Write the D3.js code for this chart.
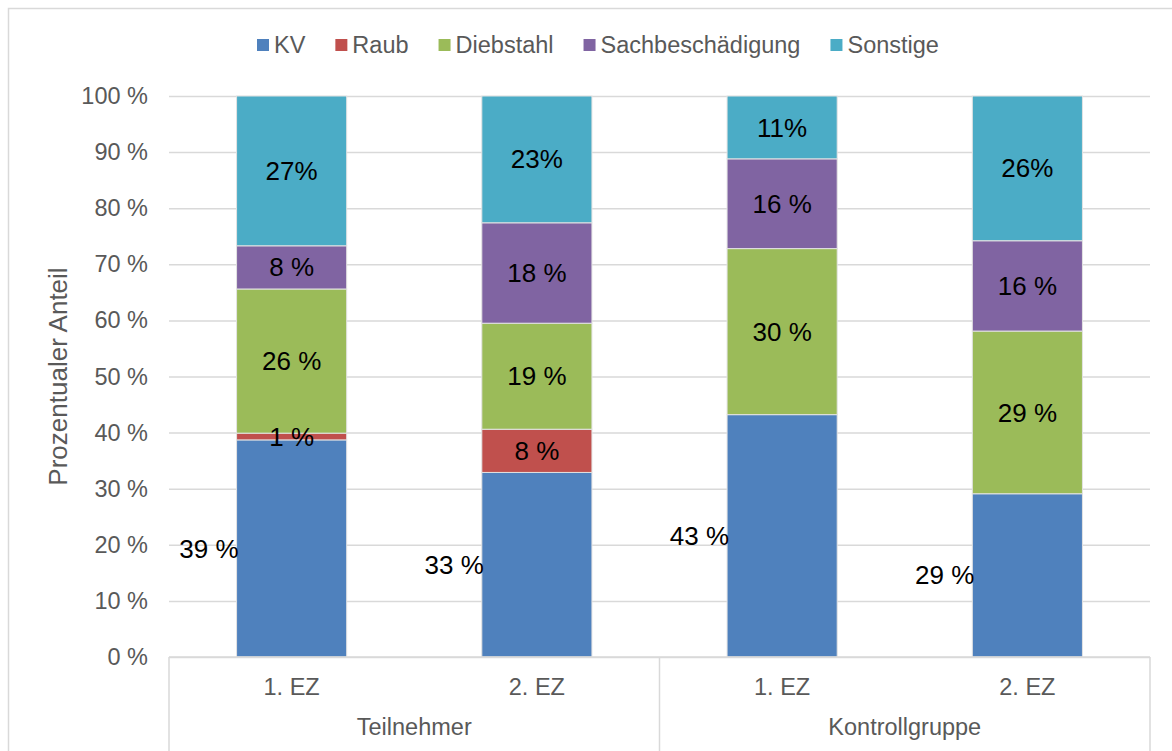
<!DOCTYPE html>
<html>
<head>
<meta charset="utf-8">
<script src="https://cdn.jsdelivr.net/npm/d3@7"></script>
<style>
    body { margin: 0; background: #fff; }
    svg { display: block; font-family: "Liberation Sans", Arial, sans-serif; }
</style>
</head>
<body>
<div id="chart"></div>
<script>
// Data (percent shares per bar)
const categories = ['1. EZ', '2. EZ', '1. EZ', '2. EZ'];
const groups = ['Teilnehmer', 'Kontrollgruppe'];
const seriesNames = ['KV', 'Raub', 'Diebstahl', 'Sachbeschädigung', 'Sonstige'];
const seriesColors = ['#4F81BD', '#C0504D', '#9BBB59', '#8064A2', '#4BACC6'];
const kv = [38.7, 32.9, 43.2, 29.1];
const raub = [1.2, 7.7, 0, 0];
const diebstahl = [25.7, 18.9, 29.6, 29.0];
const sachbeschaedigung = [7.7, 17.9, 16.0, 16.1];
const sonstige = [26.7, 22.6, 11.2, 25.8];
const yTicks = [0, 10, 20, 30, 40, 50, 60, 70, 80, 90, 100];

const W = 1172, H = 751;
const margin = { top: 96, left: 169, right: 22, bottom: 94 };
const plotW = W - margin.left - margin.right;
const plotH = H - margin.top - margin.bottom;

const seriesValues = [kv, raub, diebstahl, sachbeschaedigung, sonstige];
const rows = categories.map((c, i) => {
    const r = { idx: i };
    seriesNames.forEach((s, k) => { r[s] = seriesValues[k][i]; });
    return r;
});
const stacked = d3.stack().keys(seriesNames)(rows);

const svg = d3.select('#chart').append('svg')
    .attr('width', W)
    .attr('height', H);

// outer chart border
svg.append('rect')
    .attr('x', 8.5).attr('y', 8.5)
    .attr('width', W + 20).attr('height', H + 20)
    .attr('fill', 'none')
    .attr('stroke', '#d9d9d9')
    .attr('stroke-width', 1.5);

const g = svg.append('g')
    .attr('transform', `translate(${margin.left},${margin.top})`);

const x = d3.scaleBand()
    .domain(d3.range(categories.length))
    .range([0, plotW])
    .paddingInner(0.551)
    .paddingOuter(0.2755);

const xGroup = d3.scaleBand()
    .domain(groups)
    .range([0, plotW]);

const y = d3.scaleLinear()
    .domain([0, 100])
    .range([plotH, 0]);

// gridlines + tick labels
g.append('g')
    .call(d3.axisLeft(y).tickValues(yTicks).tickSize(-plotW).tickFormat(d => `${d} %`))
    .call(ax => ax.select('.domain').remove())
    .call(ax => ax.selectAll('line').attr('stroke', '#d9d9d9').attr('stroke-width', 1.5))
    .call(ax => ax.selectAll('text')
        .attr('x', -21)
        .style('fill', '#595959')
        .style('font-size', '23.5px')
        .style('font-family', '"Liberation Sans", Arial, sans-serif'));

// stacked bars
const layers = g.selectAll('.layer')
    .data(stacked)
    .enter()
    .append('g')
    .attr('class', 'layer')
    .attr('fill', (d, i) => seriesColors[i]);

layers.selectAll('rect')
    .data(d => d)
    .enter()
    .append('rect')
    .attr('x', d => x(d.data.idx))
    .attr('y', d => y(d[1]))
    .attr('width', x.bandwidth())
    .attr('height', d => y(d[0]) - y(d[1]))
    .attr('stroke', '#e3e3e3')
    .attr('stroke-width', 1);

// data labels on top of all bars (KV labels sit left of the bar, others centred)
const labelLayer = g.append('g');
stacked.forEach((layer, k) => {
    labelLayer.selectAll(`.lbl-${k}`)
        .data(layer.filter(d => d[1] - d[0] > 0))
        .enter()
        .append('text')
        .attr('class', `lbl-${k}`)
        .attr('x', d => k === 0 ? x(d.data.idx) + 2 : x(d.data.idx) + x.bandwidth() / 2)
        .attr('y', d => y((d[0] + d[1]) / 2))
        .attr('dy', '0.35em')
        .attr('text-anchor', k === 0 ? 'end' : 'middle')
        .style('fill', '#000')
        .style('font-size', '26px')
        .text(d => {
            const v = Math.round(d[1] - d[0]);
            return k === 4 ? `${v}%` : `${v} %`;
        });
});

// category axis (two levels)
const axisCol = '#d9d9d9';
g.append('line')
    .attr('x1', 0).attr('x2', plotW)
    .attr('y1', plotH).attr('y2', plotH)
    .attr('stroke', axisCol).attr('stroke-width', 1.5);

const dividers = [0, xGroup(groups[1]), plotW];
g.selectAll('.divider')
    .data(dividers)
    .enter()
    .append('line')
    .attr('x1', d => d).attr('x2', d => d)
    .attr('y1', plotH).attr('y2', plotH + 120)
    .attr('stroke', axisCol).attr('stroke-width', 1.5);

g.selectAll('.cat-label')
    .data(categories)
    .enter()
    .append('text')
    .attr('x', (d, i) => x(i) + x.bandwidth() / 2)
    .attr('y', plotH + 30)
    .attr('dy', '0.35em')
    .attr('text-anchor', 'middle')
    .style('fill', '#595959')
    .style('font-size', '23.5px')
    .text(d => d);

g.selectAll('.group-label')
    .data(groups)
    .enter()
    .append('text')
    .attr('x', d => xGroup(d) + xGroup.bandwidth() / 2)
    .attr('y', plotH + 70)
    .attr('dy', '0.35em')
    .attr('text-anchor', 'middle')
    .style('fill', '#595959')
    .style('font-size', '23.5px')
    .text(d => d);

// y axis title
svg.append('text')
    .attr('transform', `translate(58, ${margin.top + plotH / 2}) rotate(-90)`)
    .attr('dy', '0.35em')
    .attr('text-anchor', 'middle')
    .style('fill', '#595959')
    .style('font-size', '26px')
    .text('Prozentualer Anteil');

// legend
const legend = svg.append('g')
    .attr('transform', 'translate(257, 45)');
let lx = 0;
seriesNames.forEach((name, i) => {
    legend.append('rect')
        .attr('x', lx)
        .attr('y', -6)
        .attr('width', 12)
        .attr('height', 12)
        .attr('fill', seriesColors[i]);
    const t = legend.append('text')
        .attr('x', lx + 17)
        .attr('dy', '0.35em')
        .style('fill', '#595959')
        .style('font-size', '23.5px')
        .text(name);
    lx += 17 + t.node().getComputedTextLength() + 30;
});
</script>
</body>
</html>
